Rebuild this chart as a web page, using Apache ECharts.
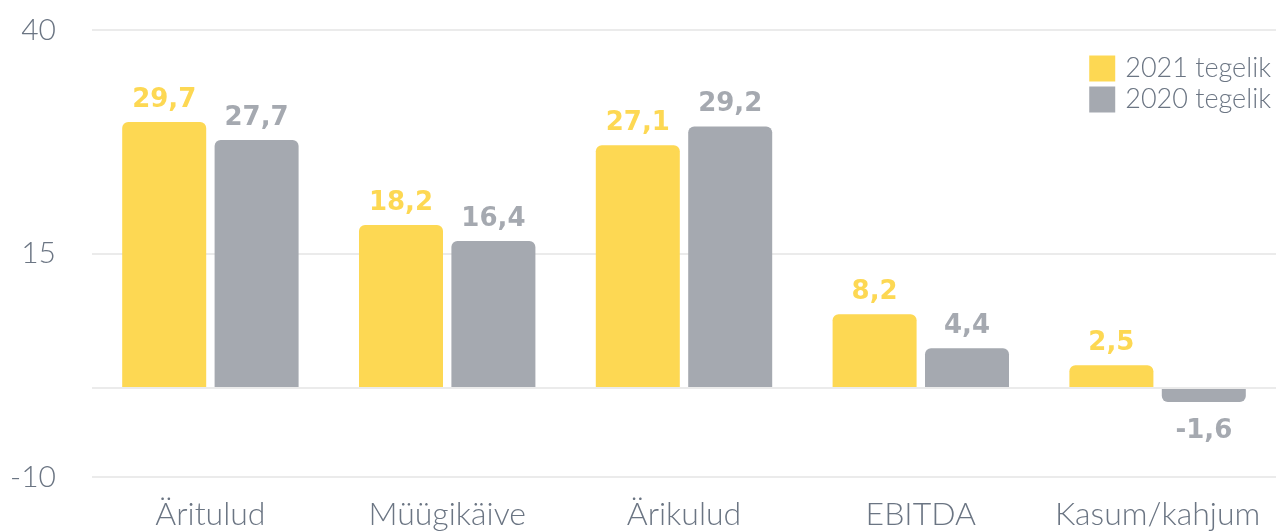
<!DOCTYPE html>
<html>
<head>
<meta charset="utf-8">
<script src="https://cdn.jsdelivr.net/npm/echarts@6/dist/echarts.min.js"></script>
<style>
  html, body { margin: 0; padding: 0; background: #fff; }
  #chart { width: 1276px; height: 532px; }
</style>
</head>
<body>
<div id="chart"></div>
<script>
var categories = ['Äritulud', 'Müügikäive', 'Ärikulud', 'EBITDA', 'Kasum/kahjum']
var seriesNames = ['2021 tegelik', '2020 tegelik']
var values2021 = [29.7, 18.2, 27.1, 8.2, 2.5]
var values2020 = [27.7, 16.4, 29.2, 4.4, -1.6]
var yTicks = [-10, 15, 40]

var yellow = '#FDD853'
var grey = '#A5A9B0'
var textColor = '#6B7583'

// negatiivne tulp: silt alla, ümarad nurgad all
function toItems(arr) {
  return arr.map(function (v) {
    if (v < 0) {
      return {
        value: v,
        label: { position: 'bottom', distance: 16 },
        itemStyle: { borderRadius: [0, 0, 6, 6] }
      }
    }
    return v
  })
}

function makeSeries(name, data, color) {
  return {
    name: name,
    type: 'bar',
    barWidth: 84,
    barGap: '10%',
    itemStyle: { color: color, borderRadius: [6, 6, 0, 0] },
    label: {
      show: true,
      position: 'top',
      distance: 9,
      color: color,
      fontFamily: 'DejaVu Sans',
      fontWeight: 'bold',
      fontSize: 26,
      formatter: function (p) { return String(p.value).replace('.', ',') }
    },
    data: toItems(data)
  }
}

var chart = echarts.init(document.getElementById('chart'))
var s1 = makeSeries(seriesNames[0], values2021, yellow)
var s2 = makeSeries(seriesNames[1], values2020, grey)
s1.markLine = {
  silent: true,
  symbol: 'none',
  label: { show: false },
  lineStyle: { color: '#EBEBEB', width: 2, type: 'solid' },
  data: [{ yAxis: 0 }],
  animation: false
}

chart.setOption({
  animation: false,
  grid: { left: 92, right: 0, top: 30, bottom: 55 },
  legend: {
    orient: 'vertical',
    right: 0,
    top: 50,
    icon: 'rect',
    itemWidth: 26,
    itemHeight: 26,
    itemGap: 4,
    textStyle: { color: textColor, fontFamily: 'Lato', fontWeight: 300, fontSize: 27, padding: [0, 0, 0, 5] },
    data: seriesNames
  },
  xAxis: {
    type: 'category',
    data: categories,
    axisLine: { show: false, onZero: false },
    axisTick: { show: false },
    axisLabel: {
      interval: 0,
      margin: 22,
      color: textColor,
      fontFamily: 'Lato',
      fontWeight: 300,
      fontSize: 32
    }
  },
  yAxis: {
    type: 'value',
    min: yTicks[0],
    max: yTicks[yTicks.length - 1],
    interval: yTicks[1] - yTicks[0],
    axisLine: { show: false },
    axisTick: { show: false },
    splitLine: { lineStyle: { color: '#EBEBEB', width: 2 } },
    axisLabel: {
      margin: 36,
      color: textColor,
      fontFamily: 'Lato',
      fontWeight: 300,
      fontSize: 30
    }
  },
  series: [s1, s2]
})
</script>
</body>
</html>
